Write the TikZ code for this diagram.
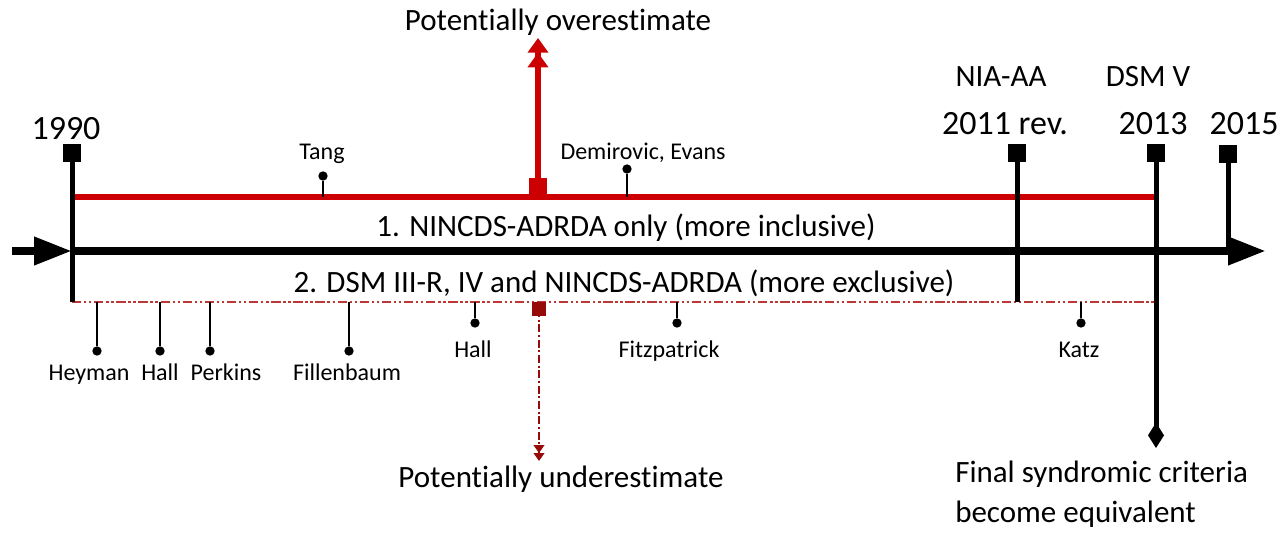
\documentclass[tikz,border=0pt]{standalone}
\usepackage{fontspec}
\setmainfont{Carlito}[Ligatures={NoCommon}]
\usetikzlibrary{arrows.meta}
\definecolor{myred}{RGB}{204,0,0}
\definecolor{darkred}{RGB}{150,10,10}
\definecolor{dashred}{RGB}{190,55,55}
\newcommand{\noligti}{t\kern0pt i}
\begin{document}
\begin{tikzpicture}[x=0.75pt,y=-0.75pt,
 big/.style={font=\fontsize{23.25}{28}\selectfont, inner sep=0, anchor=base},
 year/.style={font=\fontsize{25.5}{30}\selectfont, inner sep=0, anchor=base},
 small/.style={font=\fontsize{18}{22}\selectfont, inner sep=0, anchor=base},
 sq/.style={fill=black, minimum size=13.5pt, inner sep=0},
 pinline/.style={line width=1.2pt},
 dot/.style={circle, fill=black, minimum size=7pt, inner sep=0},
 vert/.style={line width=3.75pt},
 axis/.style={line width=6pt},
 bigtip/.style={-{Triangle[length=28.5pt,width=20pt]}},
 dashdotdot/.style={dash pattern=on 7pt off 2pt on 1.8pt off 2pt on 1.8pt off 2pt},
]
\useasboundingbox (0,0) rectangle (1278,535);

% main axis
\coordinate (L) at (12,251);
\coordinate (A90) at (72,251);
\coordinate (E) at (1266,251);
\draw[axis,bigtip] (L) -- (A90);
\draw[axis,bigtip] (A90) -- (E);

% red line (inclusive)
\coordinate (r0) at (72,197);
\coordinate (r1) at (1157,197);
\draw[myred, line width=4.5pt] (r0) -- (r1);

% dash-dot line (exclusive)
\coordinate (d0) at (72,302);
\coordinate (d1) at (1157,302);
\draw[dashred, line width=1.6pt, dashdotdot] (d0) -- (d1);

% year markers
\node[sq] (s90) at (72,153) {};
\draw[vert] (s90.center) -- (d0);
\node[year] (y90) at (66,139) {1990};

\node[sq] (s11) at (1017,153) {};
\coordinate (b11) at (1017,302);
\draw[vert] (s11.center) -- (b11);
\node[big] (nia) at (1001,87) {NIA-AA};
\node[year] (y11) at (1005,134) {2011 rev.};

\node[sq] (s13) at (1156,153) {};
\coordinate (b13) at (1156,448);
\draw[vert, -{Diamond[length=19pt,width=12pt]}] (s13.center) -- (b13);
\node[big] (dsm) at (1148,87) {DSM V};
\node[year] (y13) at (1153,134) {2013};

\node[sq] (s15) at (1228,154) {};
\coordinate (b15) at (1228,251);
\draw[vert] (s15.center) -- (b15);
\node[year] (y15) at (1244,134) {2015};

% over / under estimate arrows
\node[sq, fill=myred, minimum width=13.5pt, minimum height=14pt] (sover) at (538,187) {};
\coordinate (overtip) at (538,38);
\draw[myred, line width=4.5pt, -{Triangle[length=11pt,width=15pt]Triangle[length=11pt,width=15pt]}] (sover.center) -- (overtip);
\node[big] (over) at (558,31) {Poten\noligti ally overestimate};

\node[sq, fill=darkred, minimum size=10.5pt] (sunder) at (539,309) {};
\coordinate (undertip) at (539,461);
\draw[darkred, line width=1.5pt, dash pattern=on 6pt off 2pt on 1.5pt off 2pt,
  -{Triangle[length=6pt,width=8pt]Triangle[length=6pt,width=8pt]}] (sunder.center) -- (undertip);
\node[big] (under) at (561,487) {Poten\noligti ally underestimate};

% central texts
\node[big] (t1) at (626,236) {1. NINCDS-ADRDA only (more inclusive)};
\node[big] (t2) at (624,292) {2. DSM III-R, IV and NINCDS-ADRDA (more exclusive)};

% pins above
\node[dot] (pTang) at (323,176) {};
\coordinate (cTang) at (323,197);
\draw[pinline] (pTang) -- (cTang);
\node[small] (lTang) at (322,159) {Tang};

\node[dot] (pDem) at (627,169) {};
\coordinate (cDem) at (627,197);
\draw[pinline] (pDem) -- (cDem);
\node[small] (lDem) at (643,159) {Demirovic, Evans};

% pins below
\node[dot] (pHey) at (97,351) {};
\coordinate (cHey) at (97,302);
\draw[pinline] (cHey) -- (pHey);
\node[small] (lHey) at (89,380) {Heyman};

\node[dot] (pHall) at (160,351) {};
\coordinate (cHall) at (160,302);
\draw[pinline] (cHall) -- (pHall);
\node[small] (lHall) at (160,380) {Hall};

\node[dot] (pPer) at (210,351) {};
\coordinate (cPer) at (210,302);
\draw[pinline] (cPer) -- (pPer);
\node[small] (lPer) at (226,380) {Perkins};

\node[dot] (pFil) at (349,351) {};
\coordinate (cFil) at (349,302);
\draw[pinline] (cFil) -- (pFil);
\node[small] (lFil) at (347,380) {Fillenbaum};

\node[dot] (pHall2) at (475,323) {};
\coordinate (cHall2) at (475,302);
\draw[pinline] (cHall2) -- (pHall2);
\node[small] (lHall2) at (473,357) {Hall};

\node[dot] (pFitz) at (677,323) {};
\coordinate (cFitz) at (677,302);
\draw[pinline] (cFitz) -- (pFitz);
\node[small] (lFitz) at (669,357) {Fitzpatrick};

\node[dot] (pKatz) at (1081,323) {};
\coordinate (cKatz) at (1081,302);
\draw[pinline] (cKatz) -- (pKatz);
\node[small] (lKatz) at (1079,357) {Katz};

% final text
\node[big, anchor=base west] (final) at (955,482) {Final syndromic criteria};
\node[big, anchor=base west] (final2) at (955,522) {become equivalent};
\end{tikzpicture}
\end{document}
